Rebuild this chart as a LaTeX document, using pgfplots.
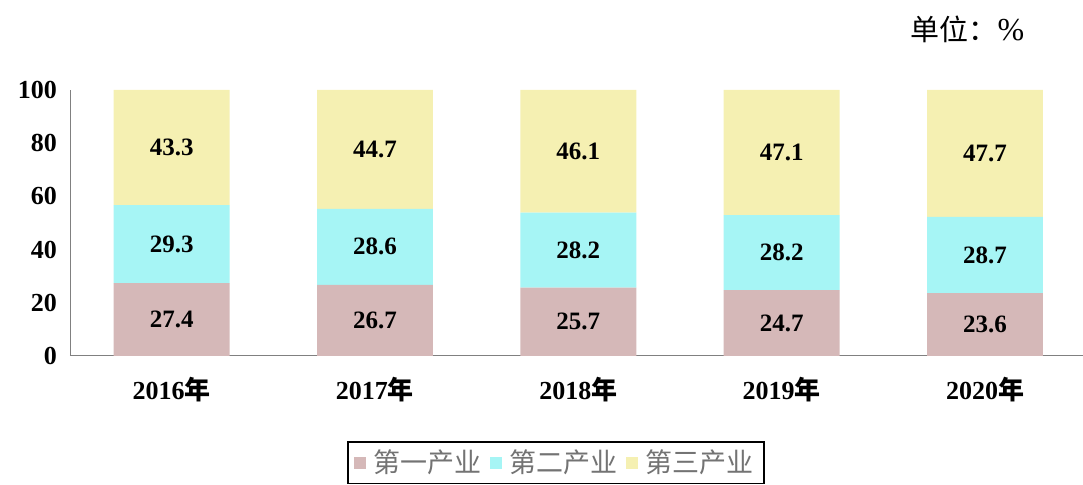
\documentclass[border=0pt]{standalone}
\usepackage{pgfplots}
\pgfplotsset{compat=1.18}
\usepackage{fontspec}
\setmainfont{Liberation Serif}
\newfontfamily\cjk{Noto Sans CJK SC}
\definecolor{cA}{RGB}{213,184,184}
\definecolor{cB}{RGB}{166,245,245}
\definecolor{cC}{RGB}{245,240,178}
\definecolor{axgray}{RGB}{128,128,128}
\begin{document}
\begin{tikzpicture}
\path (0,0) rectangle (541.5pt,241.5pt);
\begin{axis}[
  at={(35pt,63.5pt)}, anchor=south west,
  scale only axis, width=506.5pt, height=133pt,
  ybar stacked, bar width=0.57,
  xmin=-0.5, xmax=4.48, ymin=0, ymax=100,
  axis x line=bottom, axis y line=left,
  axis line style={axgray, -},
  xtick={0,1,2,3,4},
  xticklabels={2016{\cjk\bfseries 年},2017{\cjk\bfseries 年},2018{\cjk\bfseries 年},2019{\cjk\bfseries 年},2020{\cjk\bfseries 年}},
  ytick={0,20,40,60,80,100},
  major tick length=0pt,
  /pgf/number format/assume math mode=true,
  tick label style={font=\fontsize{13}{15}\selectfont\bfseries},
  xticklabel style={yshift=-7pt},
  yticklabel style={xshift=-3pt},
  point meta=explicit symbolic,
  nodes near coords={\pgfplotspointmeta},
  every node near coord/.append style={anchor=center, font=\fontsize{12.5}{15}\selectfont\bfseries},
  legend columns=3,
  legend style={at={(0.4798,-0.32)}, anchor=north, draw=black, line width=0.8pt, font=\cjk\fontsize{13.5}{16}\selectfont, text=black!55, column sep=2pt, inner xsep=3pt, inner ysep=2pt},
  legend image code/.code={\fill[#1] (0pt,-3pt) rectangle (6pt,3pt);},
]
\addplot[fill=cA, draw=none] coordinates {(0,27.4)[27.4] (1,26.7)[26.7] (2,25.7)[25.7] (3,24.7)[24.7] (4,23.6)[23.6]};
\addplot[fill=cB, draw=none] coordinates {(0,29.3)[29.3] (1,28.6)[28.6] (2,28.2)[28.2] (3,28.2)[28.2] (4,28.7)[28.7]};
\addplot[fill=cC, draw=none] coordinates {(0,43.3)[43.3] (1,44.7)[44.7] (2,46.1)[46.1] (3,47.1)[47.1] (4,47.7)[47.7]};
\legend{第一产业,第二产业,第三产业}
\end{axis}
\node[anchor=west, font=\cjk\fontsize{14.5}{17}\selectfont] at (452pt,227pt) {单位：{\rmfamily\fontsize{16}{18}\selectfont\%}};
\end{tikzpicture}
\end{document}
